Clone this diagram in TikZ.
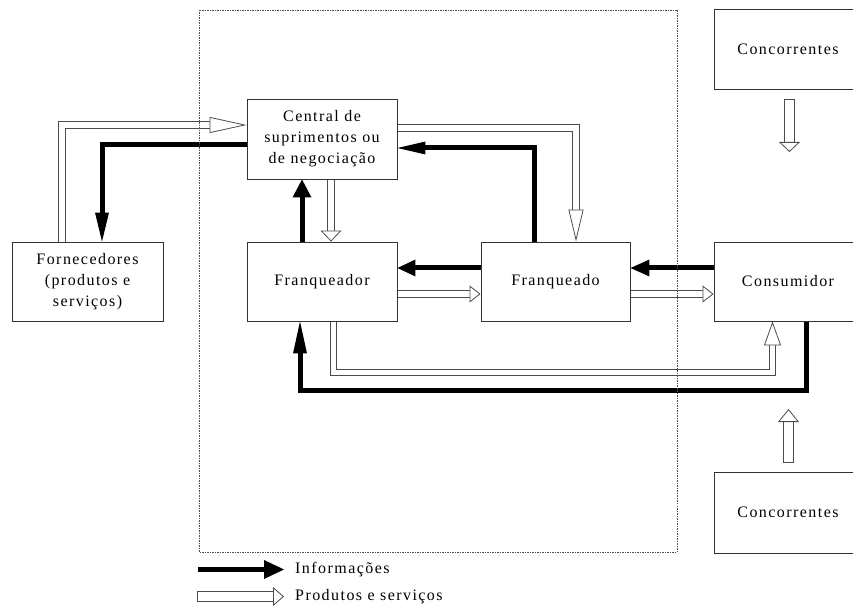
\documentclass[tikz,border=0pt]{standalone}
\usepackage{fontspec}
\setmainfont{Liberation Serif}[LetterSpace=9]
\usetikzlibrary{arrows.meta}
\pgfdeclarelayer{background}
\pgfsetlayers{background,main}
\definecolor{boxline}{gray}{0.2}
\definecolor{goodsline}{gray}{0.3}

% hollow (double-line) arrow: [extra options]{head length}{head width}{route}
\newcommand\goodsarrow[4][]{%
  \draw[goods,#1,shorten >=#2pt] #4;
  \draw[goods tip={#2}{#3}] #4;}

\begin{document}
\begin{tikzpicture}[x=1pt, y=-1pt,
  box/.style={draw=boxline, line width=0.9pt, align=center, inner sep=0pt,
    font=\fontsize{16}{21}\selectfont},
  info/.style 2 args={draw=black, line width=5pt,
    -{Triangle[length=#1pt, width=#2pt, line width=0pt]}},
  goods/.style={draw=goodsline, line width=0.8pt, double=white, double distance=5.5pt},
  wide goods/.style={double distance=8.5pt, line cap=rect},
  goods tip/.style 2 args={draw=white, line width=0.4pt,
    -{Triangle[length=#1pt, width=#2pt, fill=white, color=goodsline, line width=0.8pt]}},
  frame/.style={draw=black!70, line width=0.7pt, dash pattern=on 1.5pt off 1pt},
  legend/.style={anchor=west, inner sep=0pt, font=\fontsize{16}{18}\selectfont}]

\useasboundingbox (0,0) rectangle (853,609);
\clip (0,0) rectangle (853,609);

% boxes
\node[box, minimum width=150pt, minimum height=80pt] (central) at (322,139)
  {Central de\\suprimentos ou\\de negociação};
\node[box, minimum width=150pt, minimum height=79pt] (franqueador) at (322,281.5) {Franqueador};
\node[box, minimum width=151pt, minimum height=79pt] (forn) at (87.5,281.5)
  {Fornecedores\\(produtos e\\serviços)};
\node[box, minimum width=149pt, minimum height=79pt] (franqueado) at (555.5,281.5) {Franqueado};
\node[box, minimum width=148pt, minimum height=79pt] (consumidor) at (788,281.5) {Consumidor};
\node[box, minimum width=148pt, minimum height=80pt] (concA) at (788,49) {Concorrentes};
\node[box, minimum width=148pt, minimum height=81pt] (concB) at (788,512.5) {Concorrentes};

% dashed boundary of the franchise network
\draw[frame] (199,10) rectangle (677,552);

\begin{pgfonlayer}{background}
  % routing points
  \coordinate (fc) at (62,125);
  \coordinate (cf) at (102,145);
  \coordinate (up1) at (302,0);
  \coordinate (dn1) at (331,0);
  \coordinate (b1) at (534,148);
  \coordinate (b2) at (576,128);
  \coordinate (r1) at (0,268);
  \coordinate (r2) at (0,294);
  \coordinate (l1) at (333.5,372.5);
  \coordinate (l2) at (772.5,372.5);
  \coordinate (m1) at (300,390);
  \coordinate (m2) at (806,390);

  % supplier loop
  \goodsarrow{37}{16}{(forn.north -| fc) |- (central.west |- fc)}
  \draw[info={29}{14}] (central.west |- cf) -| (forn.north -| cf);

  % central <-> franqueador
  \draw[info={18}{19}] (franqueador.north -| up1) -- (central.south -| up1);
  \goodsarrow{11}{21}{(central.south -| dn1) -- (franqueador.north -| dn1)}

  % central <-> franqueado
  \draw[info={28}{13}] (franqueado.north -| b1) |- (central.east |- b1);
  \goodsarrow{32}{15}{(central.east |- b2) -| (franqueado.north -| b2)}

  % middle row
  \draw[info={18}{17}] (franqueado.west |- r1) -- (franqueador.east |- r1);
  \draw[info={19}{17}] (consumidor.west |- r1) -- (franqueado.east |- r1);
  \goodsarrow{11}{17}{(franqueador.east |- r2) -- (franqueado.west |- r2)}
  \goodsarrow{11}{17}{(franqueado.east |- r2) -- (consumidor.west |- r2)}

  % lower loop between franqueador and consumidor
  \goodsarrow{24}{17}{(franqueador.south -| l1) |- (l2) -- (consumidor.south -| l2)}
  \draw[info={32}{14}] (consumidor.south -| m2) |- (m1) -- (franqueador.south -| m1);

  % competitors
  \coordinate (ka) at (789.5,104);
  \coordinate (kb) at (789.5,152);
  \goodsarrow[wide goods]{10}{21}{(ka) -- (kb)}
  \coordinate (kc) at (788.5,458);
  \coordinate (kd) at (788.5,409);
  \goodsarrow[wide goods]{13}{21}{(kc) -- (kd)}

  % legend arrows
  \coordinate (ia) at (198,569.5);
  \coordinate (ib) at (284,569.5);
  \coordinate (ga) at (202.5,596.5);
  \coordinate (gb) at (284,596.5);
  \draw[info={20}{19}] (ia) -- (ib);
  \goodsarrow[wide goods]{11}{19}{(ga) -- (gb)}
\end{pgfonlayer}

% legend texts
\node[legend] (linfo) at (295,570) {Informações};
\node[legend] (lgoods) at (295,597) {Produtos e serviços};
\end{tikzpicture}
\end{document}
